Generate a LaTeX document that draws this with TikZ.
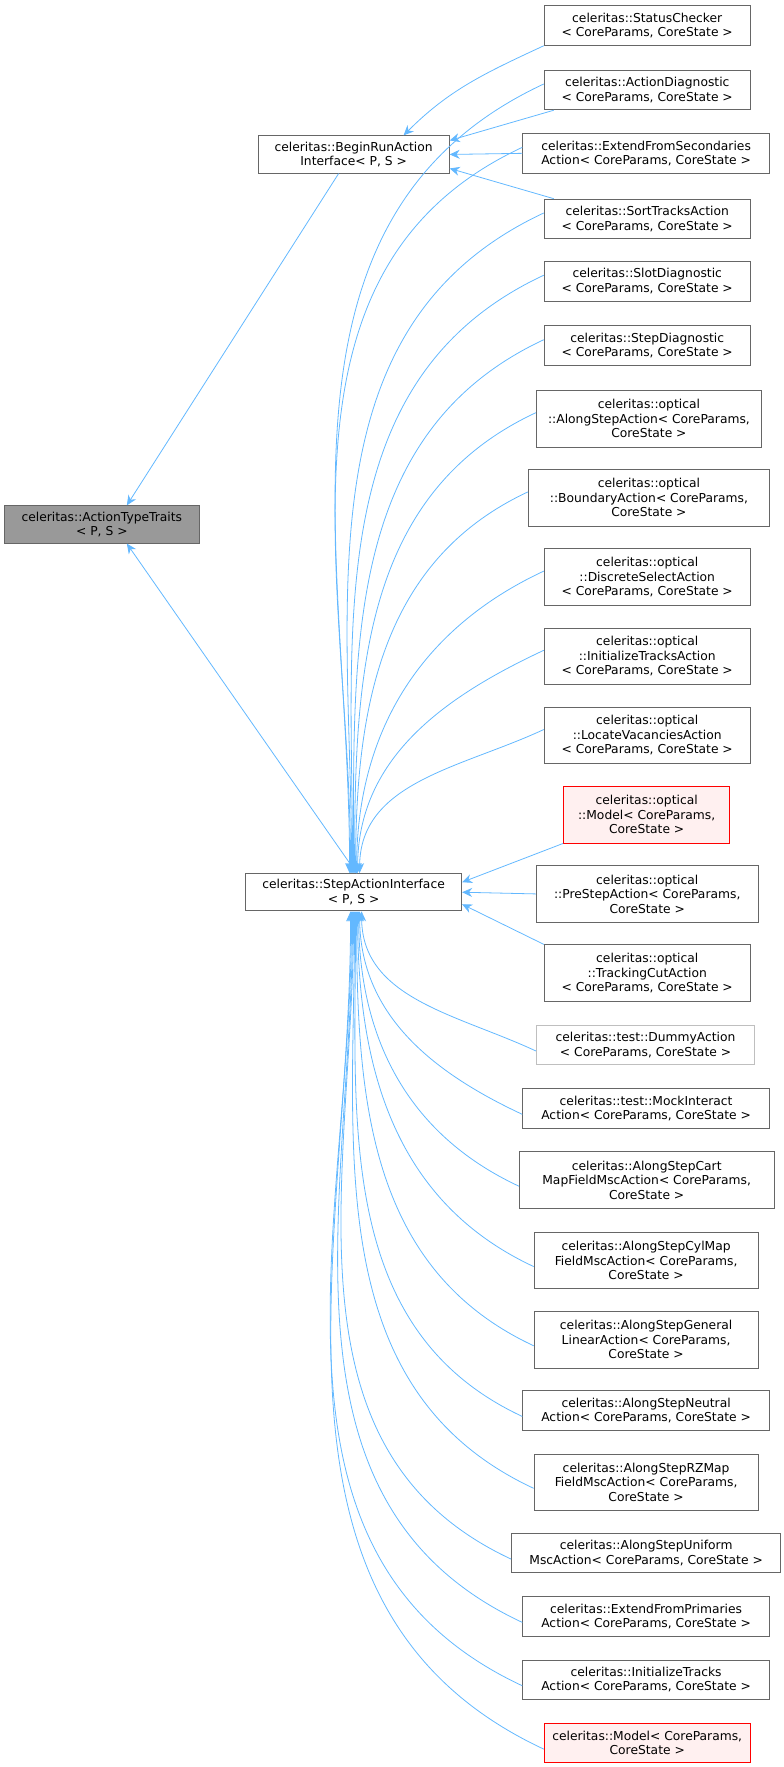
\documentclass[tikz,border=0pt]{standalone}
\usepackage{fontspec}
\setmainfont{DejaVu Sans}
\usetikzlibrary{arrows.meta}
\definecolor{edgec}{HTML}{63B8FF}
\definecolor{boxc}{HTML}{666666}
\definecolor{redfill}{HTML}{FFF0F0}
\tikzset{
 box/.style={draw=boxc, fill=white, align=center, inner sep=0pt, font=\fontsize{12.3}{14.5}\selectfont, line width=0.9pt},
 redbox/.style={box, draw=red, fill=redfill},
 graybox/.style={box, fill=black!40},
 lightbox/.style={box, draw=black!25},
 edge/.style={draw=edgec, line width=0.8pt, {Stealth[length=10pt,width=9pt]}-},
}
\newcommand{\cls}[7][box]{\node[#1, minimum width=1.1315*#5pt, minimum height=1.1315*#6pt] (#2) at (#3,-#4) {#7};}
\begin{document}
\begin{tikzpicture}[x=1.1315pt,y=1.1315pt]
\useasboundingbox (0,0) rectangle (692,-1561.6);
\cls[graybox]{att}{90}{463.5}{172}{33}{celeritas::ActionTypeTraits\\< P, S >}
\cls{brun}{312.5}{136.5}{169}{33}{celeritas::BeginRunAction\\Interface< P, S >}
\cls{step}{312.5}{788.5}{191}{33}{celeritas::StepActionInterface\\< P, S >}
\cls{c1}{572}{22.5}{182}{35}{celeritas::StatusChecker\\< CoreParams, CoreState >}
\cls{c2}{572}{79.5}{182}{35}{celeritas::ActionDiagnostic\\< CoreParams, CoreState >}
\cls{c3}{571}{135.5}{218}{35}{celeritas::ExtendFromSecondaries\\Action< CoreParams, CoreState >}
\cls{c4}{572}{193.5}{182}{35}{celeritas::SortTracksAction\\< CoreParams, CoreState >}
\cls{c5}{572}{248.5}{182}{35}{celeritas::SlotDiagnostic\\< CoreParams, CoreState >}
\cls{c6}{572}{305.5}{182}{35}{celeritas::StepDiagnostic\\< CoreParams, CoreState >}
\cls{c7}{573.5}{370}{199}{50}{celeritas::optical\\::AlongStepAction< CoreParams,\\CoreState >}
\cls{c8}{573.5}{440}{213}{50}{celeritas::optical\\::BoundaryAction< CoreParams,\\CoreState >}
\cls{c9}{572}{510}{182}{50}{celeritas::optical\\::DiscreteSelectAction\\< CoreParams, CoreState >}
\cls{c10}{572}{580}{182}{50}{celeritas::optical\\::InitializeTracksAction\\< CoreParams, CoreState >}
\cls{c11}{572}{650}{182}{50}{celeritas::optical\\::LocateVacanciesAction\\< CoreParams, CoreState >}
\cls[redbox]{c12}{571.5}{720}{147}{50}{celeritas::optical\\::Model< CoreParams,\\CoreState >}
\cls{c13}{572}{790}{196}{50}{celeritas::optical\\::PreStepAction< CoreParams,\\CoreState >}
\cls{c14}{572}{860}{182}{50}{celeritas::optical\\::TrackingCutAction\\< CoreParams, CoreState >}
\cls[lightbox]{c15}{570.5}{923.5}{193}{35}{celeritas::test::DummyAction\\< CoreParams, CoreState >}
\cls{c16}{571}{979.5}{218}{35}{celeritas::test::MockInteract\\Action< CoreParams, CoreState >}
\cls{c17}{571.5}{1043}{225}{50}{celeritas::AlongStepCart\\MapFieldMscAction< CoreParams,\\CoreState >}
\cls{c18}{571}{1114}{198}{50}{celeritas::AlongStepCylMap\\FieldMscAction< CoreParams,\\CoreState >}
\cls{c19}{571}{1184}{198}{50}{celeritas::AlongStepGeneral\\LinearAction< CoreParams,\\CoreState >}
\cls{c20}{571}{1246.5}{218}{35}{celeritas::AlongStepNeutral\\Action< CoreParams, CoreState >}
\cls{c21}{571}{1310}{198}{50}{celeritas::AlongStepRZMap\\FieldMscAction< CoreParams,\\CoreState >}
\cls{c22}{571}{1372.5}{238}{35}{celeritas::AlongStepUniform\\MscAction< CoreParams, CoreState >}
\cls{c23}{571}{1428.5}{218}{35}{celeritas::ExtendFromPrimaries\\Action< CoreParams, CoreState >}
\cls{c24}{571}{1484.5}{218}{35}{celeritas::InitializeTracks\\Action< CoreParams, CoreState >}
\cls[redbox]{c25}{572}{1540.5}{182}{35}{celeritas::Model< CoreParams,\\CoreState >}
% to ActionTypeTraits
\draw[edge] ([xshift=25pt]att.north) -- ([xshift=-15pt]brun.south);
\draw[edge] ([xshift=25pt]att.south) -- ([xshift=3pt]step.north);
% to BeginRun
\draw[edge] ([xshift=50pt]brun.north) to[out=45,in=205] (c1.south west);
\draw[edge] ([yshift=14pt]brun.east) -- ([xshift=10pt]c2.south west);
\draw[edge] (brun.east) -- (c3.west);
\draw[edge] ([yshift=-14pt]brun.east) -- ([xshift=10pt]c4.north west);
% to step from above
\foreach \c/\s in {c2/-4,c3/-3,c4/-2,c5/-1,c6/0,c7/1,c8/2,c9/3,c10/4,c11/6}{
 \draw[edge] ([xshift=\s pt]step.north) to[out=90,in=205] ([yshift=6pt]\c.west);
}
\draw[edge] ([yshift=10pt]step.east) -- (c12.south west);
\draw[edge] (step.east) -- (c13.west);
\draw[edge] ([yshift=-12pt]step.east) -- (c14.north west);
% from below
\foreach \c/\s in {c15/8,c16/6,c17/5,c18/4,c19/3,c20/2,c21/1,c22/0,c23/-1,c24/-2,c25/-3}{
 \draw[edge] ([xshift=\s pt]step.south) to[out=-90,in=155] ([yshift=-6pt]\c.west);
}
\end{tikzpicture}
\end{document}
